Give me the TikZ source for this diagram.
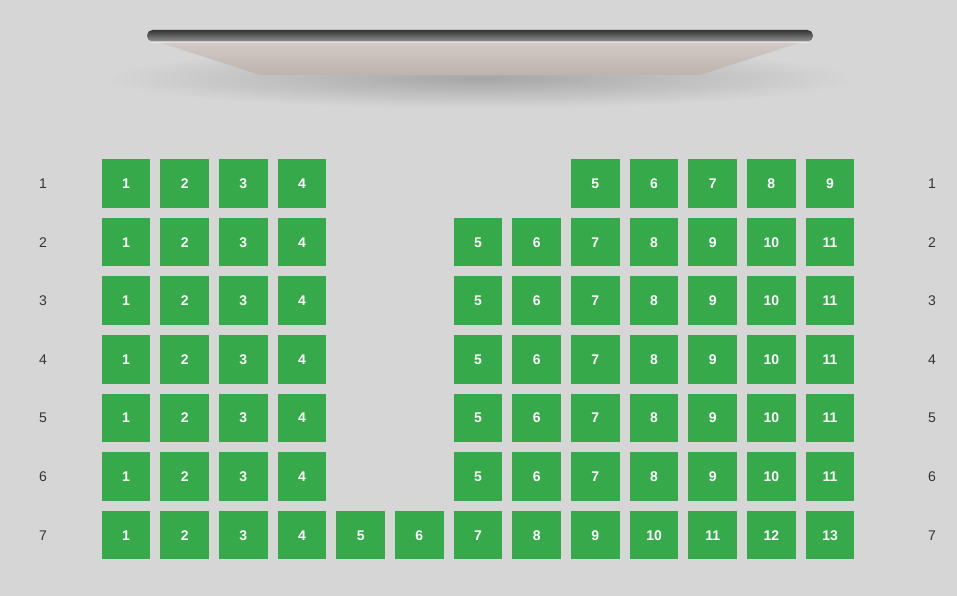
\documentclass[tikz,border=0pt]{standalone}
\usepackage{fontspec}
\setmainfont{Liberation Sans}
\usetikzlibrary{fadings}
\definecolor{bg}{RGB}{214,214,214}
\definecolor{seatgreen}{RGB}{54,169,74}
\definecolor{labelgray}{RGB}{51,51,51}
\definecolor{bartop}{RGB}{52,52,52}
\definecolor{barbot}{RGB}{145,145,145}
\definecolor{traptop}{RGB}{210,202,199}
\definecolor{trapbot}{RGB}{190,180,174}
\definecolor{shadowc}{RGB}{150,150,150}
\tikzfading[name=softblob, inner color=transparent!25, outer color=transparent!100]
\tikzset{
  seat/.style={fill=seatgreen, minimum size=48.5pt, inner sep=0pt, text=white,
    text height=10pt, text depth=0pt,
    font=\bfseries\fontsize{14}{14}\selectfont},
  rowlab/.style={text=labelgray, inner sep=0pt, text height=10pt, text depth=0pt,
    font=\fontsize{14}{14}\selectfont}
}
\begin{document}
\begin{tikzpicture}[x=1pt,y=-1pt]
\useasboundingbox (0,0) rectangle (957,596);
\fill[bg] (0,0) rectangle (957,596);
% soft shadow below the screen
\fill[shadowc, path fading=softblob] (110,48) rectangle (850,108);
% screen hood
\shade[top color=traptop, bottom color=trapbot] (158,42) -- (802,42) -- (700,75) -- (260,75) -- cycle;
\fill[white, opacity=0.45] (152,41) rectangle (808,43.5);
% screen bar
\shade[top color=bartop, bottom color=barbot, rounded corners=5.5pt] (147,30) rectangle (813,41.5);
% row labels
\foreach \r in {1,...,7}{
  \pgfmathsetmacro{\yy}{183.5+(\r-1)*58.6}
  \node[rowlab] (l-\r) at (43,\yy) {\r};
  \node[rowlab] (rl-\r) at (932,\yy) {\r};
}
% row 1
\foreach \c/\n in {1/1,2/2,3/3,4/4,9/5,10/6,11/7,12/8,13/9}{
  \pgfmathsetmacro{\xx}{126+(\c-1)*58.67}
  \node[seat] (s-1-\c) at (\xx,183.5) {\n};
}
% rows 2-6
\foreach \r in {2,...,6}{
  \pgfmathsetmacro{\yy}{183.5+(\r-1)*58.6}
  \foreach \c/\n in {1/1,2/2,3/3,4/4,7/5,8/6,9/7,10/8,11/9,12/10,13/11}{
    \pgfmathsetmacro{\xx}{126+(\c-1)*58.67}
    \node[seat] (s-\r-\c) at (\xx,\yy) {\n};
  }
}
% row 7
\foreach \c in {1,...,13}{
  \pgfmathsetmacro{\xx}{126+(\c-1)*58.67}
  \node[seat] (s-7-\c) at (\xx,535) {\c};
}
\end{tikzpicture}
\end{document}
